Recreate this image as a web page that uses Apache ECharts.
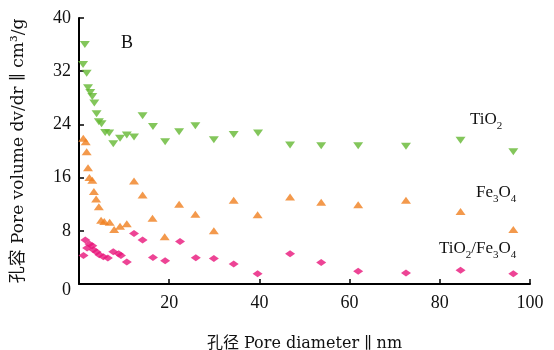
<!DOCTYPE html>
<html><head><meta charset="utf-8">
<script src="https://cdn.jsdelivr.net/npm/echarts@6/dist/echarts.min.js"></script>
<style>html,body{margin:0;padding:0;background:#fff}#c{width:554px;height:350px}</style>
</head><body><div id="c"></div>
<script>
// Pore diameter (nm) / pore volume values
const tio2X = [1.3,0.9,1.7,2.0,2.5,2.95,3.4,3.9,4.4,5.0,5.8,6.7,7.6,9.1,10.6,12.2,14.1,16.4,19.1,22.2,25.8,29.9,34.3,39.7,46.8,53.7,61.9,72.5,84.6,96.3];
const tio2Y = [36.0,33.0,31.7,29.5,28.8,28.2,27.2,25.6,24.4,24.1,22.8,22.7,21.1,21.9,22.4,22.1,25.3,23.7,21.4,22.9,23.8,21.7,22.5,22.7,20.9,20.8,20.8,20.7,21.6,19.9];
const fe3o4X = [0.95,1.5,1.7,2.0,2.3,2.95,3.3,3.8,4.4,4.9,5.6,6.8,7.8,9.1,10.6,12.2,14.1,16.3,19.0,22.2,25.8,29.9,34.3,39.6,46.8,53.7,61.9,72.5,84.6,96.3];
const fe3o4Y = [21.9,21.4,19.9,17.5,16.0,15.6,13.9,12.8,11.6,9.6,9.4,9.3,8.2,8.7,9.05,15.5,13.4,9.9,7.1,12.0,10.5,8.0,12.6,10.4,13.1,12.3,11.9,12.6,10.9,8.2];
const compX = [1.0,1.4,1.8,2.3,2.95,3.2,3.9,4.5,5.4,6.4,7.6,8.8,9.3,10.6,12.2,14.1,16.4,19.1,22.4,25.9,29.9,34.3,39.6,46.8,53.7,61.9,72.5,84.6,96.3];
const compY = [4.3,6.6,5.4,6.0,5.75,5.15,4.8,4.4,4.1,3.9,4.85,4.55,4.3,3.3,7.6,6.6,4.0,3.5,6.4,3.95,3.85,3.0,1.55,4.55,3.25,1.9,1.65,2.05,1.55];
const xTicks = [0,20,40,60,80,100];
const yTicks = [0,8,16,24,32,40];

const zip = (xs, ys) => xs.map((x, i) => [x, ys[i]]);
const serif = '"Liberation Serif","Times New Roman",serif';
const nameFont = '"DejaVu Serif","Noto Sans CJK SC",serif';

const chart = echarts.init(document.getElementById('c'), null, {renderer: 'canvas'});
const axisLine = {show: true, lineStyle: {color: '#000', width: 2}};
const tick = {show: true, inside: true, length: 5, lineStyle: {color: '#000', width: 1.5}};
chart.setOption({
  animation: false,
  backgroundColor: '#fff',
  grid: {left: 79, right: 24, top: 18, bottom: 66, containLabel: false, outerBoundsMode: 'none'},
  xAxis: {
    type: 'value', min: xTicks[0], max: xTicks[xTicks.length - 1], interval: 20,
    axisLine: axisLine, axisTick: tick, splitLine: {show: false},
    axisLabel: {color: '#111', fontFamily: serif, fontSize: 18, margin: 10,
      formatter: v => (v === 0 ? '' : String(v))},
    name: '孔径 Pore diameter ∥ nm', nameLocation: 'middle', nameGap: 52,
    nameTextStyle: {color: '#111', fontFamily: nameFont, fontSize: 16}
  },
  yAxis: {
    type: 'value', min: yTicks[0], max: yTicks[yTicks.length - 1], interval: 8,
    axisLine: axisLine, axisTick: tick, splitLine: {show: false},
    axisLabel: {color: '#111', fontFamily: serif, fontSize: 18, margin: 8,
      formatter: v => (v === 0 ? '{z|0}' : String(v)),
      rich: {z: {fontFamily: serif, fontSize: 18, color: '#111', padding: [12, 0, 0, 0]}}},
    name: '孔容 Pore volume dv/dr ∥ cm³/g', nameLocation: 'middle', nameGap: 52,
    nameTextStyle: {color: '#111', fontFamily: nameFont, fontSize: 17}
  },
  series: [
    {type: 'scatter', name: 'TiO2', data: zip(tio2X, tio2Y), symbol: 'triangle', symbolRotate: 180,
      symbolSize: [10, 7], itemStyle: {color: '#64b832'}},
    {type: 'scatter', name: 'Fe3O4', data: zip(fe3o4X, fe3o4Y), symbol: 'triangle',
      symbolSize: [10, 7], itemStyle: {color: '#f0801f'}},
    {type: 'scatter', name: 'TiO2/Fe3O4', data: zip(compX, compY), symbol: 'diamond',
      symbolSize: [10, 7], itemStyle: {color: '#e8157a'}}
  ],
  graphic: [
    {type: 'text', left: 121, top: 34, style: {text: 'B', font: '18px ' + serif, fill: '#111'}},
    {type: 'text', left: 470, top: 111, style: {text: '{n|TiO}{s|2}', fill: '#111',
      rich: {n: {fontFamily: serif, fontSize: 17, verticalAlign: 'bottom'}, s: {fontFamily: serif, fontSize: 11, verticalAlign: 'bottom', padding: [0,0,-4,0]}}}},
    {type: 'text', left: 476, top: 184, style: {text: '{n|Fe}{s|3}{n|O}{s|4}', fill: '#111',
      rich: {n: {fontFamily: serif, fontSize: 17, verticalAlign: 'bottom'}, s: {fontFamily: serif, fontSize: 11, verticalAlign: 'bottom', padding: [0,0,-4,0]}}}},
    {type: 'text', left: 439, top: 240, style: {text: '{n|TiO}{s|2}{n|/Fe}{s|3}{n|O}{s|4}', fill: '#111',
      rich: {n: {fontFamily: serif, fontSize: 17, verticalAlign: 'bottom'}, s: {fontFamily: serif, fontSize: 11, verticalAlign: 'bottom', padding: [0,0,-4,0]}}}}
  ]
});
</script></body></html>
